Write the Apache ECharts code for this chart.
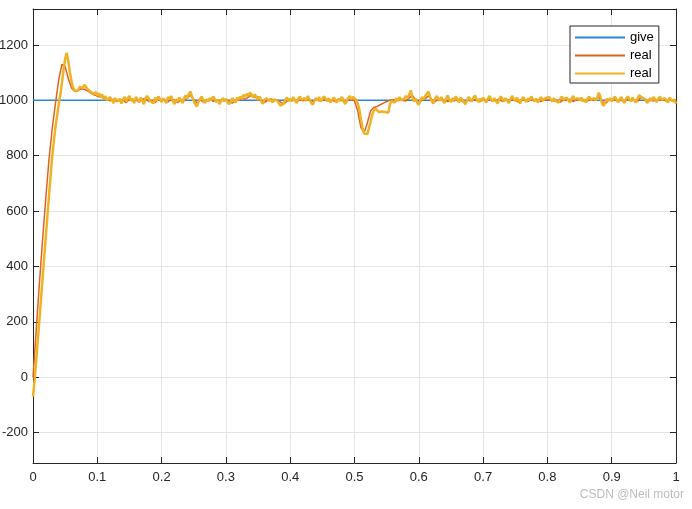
<!DOCTYPE html>
<html>
<head>
<meta charset="utf-8">
<script src="https://cdn.jsdelivr.net/npm/echarts@6/dist/echarts.min.js"></script>
<style>
html, body { margin: 0; padding: 0; background: #fff; }
#chart { width: 692px; height: 509px; }
</style>
</head>
<body>
<div id="chart"></div>
<script>
const real1Step = 0.005;
const real2Step = 0.0025;
const giveTime = [0, 1];
const giveValues = [1000, 1000];
const real1Values = [
    0, 170, 340, 500, 650, 790, 900, 990, 1075, 1130,
    1122, 1078, 1045, 1032, 1035, 1042, 1040, 1034, 1026, 1020,
    1016, 1012, 1010, 1004, 998, 1004, 996, 1002, 1000, 992,
    1004, 998, 1002, 994, 1004, 1008, 996, 1000, 992, 1004,
    1000, 1002, 994, 1006, 1000, 992, 1002, 998, 1010, 1018,
    1004, 990, 1002, 994, 1000, 1006, 996, 1002, 994, 1000,
    1004, 996, 990, 1002, 1000, 1008, 1004, 1012, 1018, 1010,
    1012, 1000, 992, 1000, 1006, 998, 1002, 994, 986, 998,
    1000, 1004, 996, 1002, 998, 1004, 1000, 994, 1002, 998,
    1002, 1006, 998, 1000, 996, 1004, 1000, 994, 1000, 1004,
    998, 962, 902, 884, 918, 962, 974, 978, 984, 990,
    996, 1000, 1002, 998, 1002, 1000, 998, 1008, 1018, 1004,
    992, 1000, 1006, 1016, 1004, 994, 1004, 1000, 1002, 996,
    1000, 998, 1004, 1000, 994, 1002, 998, 1004, 1000, 996,
    1002, 1000, 1006, 998, 1000, 1004, 996, 1002, 1000, 1004,
    1000, 994, 1002, 1000, 996, 1004, 1000, 1002, 996, 1002,
    1000, 1004, 998, 1000, 994, 1002, 1000, 1004, 996, 1002,
    1000, 1000, 996, 1002, 1000, 1002, 1012, 996, 988, 1000,
    1000, 1002, 996, 1002, 998, 1004, 1000, 1002, 996, 1010,
    1006, 994, 1000, 998, 1002, 1000, 1004, 996, 1000, 1000,
    994
];
const real2Values = [
    -70, -10, 60, 135, 210, 285, 360, 435, 510, 585, 660, 730, 800, 855, 905, 945, 985, 1020, 1062, 1110,
    1150, 1172, 1140, 1100, 1068, 1045, 1035, 1030, 1036, 1048, 1052, 1045, 1056, 1048, 1040, 1046, 1030, 1034, 1022, 1030,
    1018, 1026, 1010, 1022, 1004, 1016, 1000, 994, 1012, 1002, 990, 1008, 1015, 996, 1006, 988, 1004, 1012, 996, 1008,
    1016, 998, 1006, 990, 1012, 1004, 994, 1010, 1000, 986, 1006, 1016, 1008, 996, 1002, 990, 1010, 998, 1014, 1004,
    994, 1008, 1000, 990, 1012, 1004, 1016, 998, 986, 1004, 996, 1010, 1002, 990, 1008, 1018, 1006, 1024, 1032, 1012,
    998, 986, 978, 996, 1006, 1014, 998, 990, 1004, 996, 1008, 1000, 1014, 1006, 994, 1002, 986, 998, 1008, 996,
    1006, 994, 986, 996, 1008, 1000, 992, 1010, 1002, 1014, 1006, 1020, 1012, 1024, 1016, 1028, 1020, 1010, 1022, 1012,
    1002, 1014, 996, 988, 1000, 1008, 1014, 998, 1006, 992, 1004, 1010, 998, 990, 980, 974, 990, 1002, 1010, 998,
    1006, 996, 1012, 1000, 990, 1004, 1014, 1002, 996, 1008, 998, 1016, 1004, 992, 984, 998, 1008, 1000, 1012, 996,
    1004, 1014, 1006, 996, 1008, 992, 1000, 1010, 1002, 992, 1006, 998, 1012, 1004, 986, 996, 1008, 1016, 1004, 1012,
    1006, 1002, 990, 968, 932, 900, 880, 876, 878, 900, 922, 948, 962, 970, 966, 958, 952, 960, 966, 958,
    962, 955, 985, 998, 1004, 992, 1008, 998, 1012, 1000, 994, 1006, 1016, 1008, 1020, 1036, 1010, 996, 1006, 992,
    984, 1000, 1012, 1004, 1016, 1022, 1032, 1012, 998, 988, 1004, 1016, 1008, 998, 1012, 1000, 990, 1008, 1018, 1002,
    994, 1008, 1000, 1014, 1004, 992, 1010, 1002, 996, 986, 1000, 1012, 1004, 996, 1010, 1018, 1004, 994, 1006, 998,
    1010, 1000, 992, 1006, 1016, 1004, 996, 1008, 998, 988, 1004, 1014, 1006, 996, 1008, 1000, 990, 1004, 1016, 1006,
    998, 1010, 1000, 988, 1004, 1012, 1002, 994, 1008, 1000, 1014, 1004, 996, 1006, 992, 1002, 1012, 1000, 994, 1008,
    1002, 1012, 1004, 996, 1008, 998, 1004, 992, 1006, 1014, 1002, 996, 1010, 1000, 992, 1006, 1016, 1004, 998, 1008,
    1000, 1010, 996, 1004, 992, 1006, 1014, 1002, 996, 1008, 1000, 1010, 1028, 1012, 988, 980, 994, 1006, 998, 1008,
    996, 1006, 1014, 1002, 994, 1004, 1012, 998, 990, 1006, 1014, 1004, 996, 1010, 1000, 992, 1006, 1018, 1024, 1010,
    1016, 1004, 990, 996, 1008, 1000, 1012, 1004, 994, 1006, 1014, 1002, 996, 1008, 1000, 992, 1010, 1004, 996, 1004,
    988
];
const yTickValues = [-200, 0, 200, 400, 600, 800, 1000, 1200];
const legendNames = ['give', 'real', 'real '];

const toPairs = (vals, step) => vals.map((v, i) => [+(i * step).toFixed(4), v]);

const axisColor = '#262626';
const font = 'Liberation Sans, Arial, sans-serif';
const lineIcon = 'path://M0,0L50,0L50,2L0,2Z';

let myChart = echarts.init(document.getElementById('chart'));
let option = {
    animation: false,
    backgroundColor: '#fff',
    grid: { left: 33, right: 16, top: 9, bottom: 46, outerBoundsMode: 'none' },
    legend: {
        orient: 'vertical',
        left: 570,
        top: 26,
        padding: [5, 5, 3, 5],
        itemWidth: 50,
        itemHeight: 16,
        itemGap: 5,
        borderColor: axisColor,
        borderWidth: 1,
        backgroundColor: '#fff',
        textStyle: { fontFamily: font, fontSize: 13, color: '#000' },
        formatter: (name) => name.trim(),
        data: legendNames.map((n) => ({ name: n, icon: lineIcon }))
    },
    xAxis: [{
        type: 'value', min: 0, max: 1, interval: 0.1,
        axisLine: { onZero: false, lineStyle: { color: axisColor } },
        axisTick: { inside: true, length: 6, lineStyle: { color: axisColor } },
        axisLabel: { fontFamily: font, fontSize: 13, color: axisColor, margin: 8 },
        splitLine: { show: true, lineStyle: { color: '#e4e4e4' } }
    }, {
        type: 'value', min: 0, max: 1, interval: 0.1, position: 'top',
        axisLine: { onZero: false, lineStyle: { color: axisColor } },
        axisTick: { inside: true, length: 6, lineStyle: { color: axisColor } },
        axisLabel: { show: false },
        splitLine: { show: false }
    }],
    yAxis: [{
        type: 'value', min: -310, max: 1330,
        axisLine: { show: true, onZero: false, lineStyle: { color: axisColor } },
        axisTick: { show: true, inside: true, length: 6, customValues: yTickValues, lineStyle: { color: axisColor } },
        axisLabel: { fontFamily: font, fontSize: 13, color: axisColor, margin: 5, customValues: yTickValues, formatter: (v) => String(v) },
        splitLine: { show: true, lineStyle: { color: '#e4e4e4' } }
    }, {
        type: 'value', min: -310, max: 1330, position: 'right',
        axisLine: { show: true, onZero: false, lineStyle: { color: axisColor } },
        axisTick: { show: true, inside: true, length: 6, customValues: yTickValues, lineStyle: { color: axisColor } },
        axisLabel: { show: false },
        splitLine: { show: false }
    }],
    series: [{
        name: legendNames[0],
        type: 'line',
        symbol: 'none',
        color: '#2a86d4',
        lineStyle: { width: 1.5 },
        data: giveTime.map((t, i) => [t, giveValues[i]])
    }, {
        name: legendNames[1],
        type: 'line',
        symbol: 'none',
        color: '#e0621f',
        lineStyle: { width: 1.5 },
        data: toPairs(real1Values, real1Step)
    }, {
        name: legendNames[2],
        type: 'line',
        symbol: 'none',
        color: '#efb224',
        lineStyle: { width: 2.5 },
        data: toPairs(real2Values, real2Step)
    }],
    graphic: [{
        type: 'text',
        right: 8,
        bottom: 8,
        style: { text: 'CSDN @Neil motor', fill: '#bdbdbd', font: '12px ' + font }
    }]
};
myChart.setOption(option);
</script>
</body>
</html>
